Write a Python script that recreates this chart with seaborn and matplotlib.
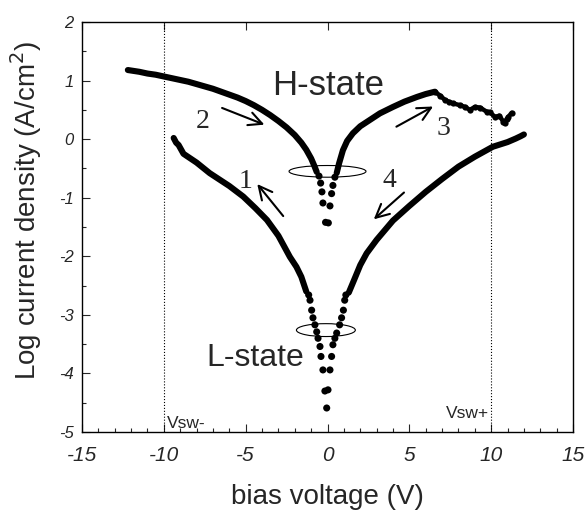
import matplotlib
matplotlib.use("Agg")
import matplotlib.pyplot as plt
import seaborn as sns
import pandas as pd
from matplotlib.patches import Ellipse
from matplotlib.ticker import MultipleLocator

# sweep 1: L-state, negative bias (dense part, then sparse dots near 0 V)
s1_v = [-9.4, -9.25, -9.1, -9.0, -8.8, -8.0, -7.2, -6.0, -5.15, -4.4, -3.7, -3.0, -2.3, -1.9, -1.6, -1.3]
s1_j = [0.02, -0.06, -0.10, -0.15, -0.25, -0.40, -0.58, -0.80, -0.98, -1.18, -1.38, -1.65, -2.01, -2.18, -2.35, -2.60]
s1_dot_v = [-1.15, -1.07, -0.97, -0.89, -0.77, -0.66, -0.58, -0.46, -0.40, -0.28, -0.16, -0.05]
s1_dot_j = [-2.66, -2.75, -2.92, -3.05, -3.17, -3.29, -3.40, -3.54, -3.71, -3.94, -4.30, -4.59]

# sweep 2: H-state, negative bias
s2_v = [-12.2, -11.5, -11.0, -10.5, -10.0, -9.5, -9.0, -8.5, -8.0, -7.5, -7.0, -6.5, -6.0, -5.5,
        -5.0, -4.5, -4.0, -3.5, -3.0, -2.5, -2.0, -1.6, -1.3, -1.0, -0.8, -0.66]
s2_j = [1.18, 1.15, 1.12, 1.10, 1.07, 1.04, 1.01, 0.98, 0.94, 0.90, 0.86, 0.81, 0.76, 0.71,
        0.65, 0.58, 0.50, 0.41, 0.31, 0.20, 0.07, -0.06, -0.18, -0.33, -0.46, -0.56]
s2_dot_v = [-0.52, -0.42, -0.34, -0.28, -0.12]
s2_dot_j = [-0.63, -0.75, -0.90, -1.09, -1.42]

# sweep 3: H-state, positive bias
s3_v = [0.56, 0.7, 0.94, 1.2, 1.55, 2.0, 2.6, 3.2, 4.0, 4.7, 5.46, 6.0, 6.56]
s3_j = [-0.58, -0.42, -0.19, -0.03, 0.10, 0.22, 0.33, 0.44, 0.55, 0.64, 0.72, 0.77, 0.81]
s3_noisy_v = [6.56, 6.9, 7.17, 7.4, 7.68, 8.09, 8.4, 8.7, 9.0, 9.31, 9.72, 9.92, 10.23, 10.5, 10.74, 10.84, 10.94, 11.05, 11.25]
s3_noisy_j = [0.81, 0.74, 0.67, 0.64, 0.61, 0.58, 0.55, 0.50, 0.55, 0.54, 0.47, 0.46, 0.38, 0.40, 0.30, 0.27, 0.34, 0.38, 0.45]
s3_dot_v = [0.45, 0.33, 0.25, 0.15, 0.05]
s3_dot_j = [-0.65, -0.79, -0.93, -1.14, -1.43]

# sweep 4: L-state, positive bias
s4_v = [12.0, 11.8, 11.5, 11.0, 10.1, 9.0, 8.0, 7.0, 6.0, 5.0, 4.0, 3.0, 2.39, 2.0, 1.6, 1.3]
s4_j = [0.08, 0.05, 0.01, -0.05, -0.13, -0.30, -0.47, -0.68, -0.90, -1.14, -1.39, -1.72, -1.95, -2.15, -2.42, -2.62]
s4_dot_v = [1.12, 1.05, 0.97, 0.86, 0.74, 0.56, 0.45, 0.33, 0.25, 0.15, 0.03]
s4_dot_j = [-2.66, -2.75, -2.92, -3.05, -3.17, -3.31, -3.40, -3.51, -3.71, -3.94, -4.28]

xticks = [-15, -10, -5, 0, 5, 10, 15]
yticks = [-5, -4, -3, -2, -1, 0, 1, 2]

sns.set_style("ticks")
plt.rcParams['font.family'] = ['Liberation Sans', 'DejaVu Sans']
plt.rcParams['axes.unicode_minus'] = False

fig = plt.figure(figsize=(5.88, 5.14), dpi=100)
ax = fig.add_axes([0.1395, 0.1595, 0.835, 0.7977])

for v, j in [(s1_v, s1_j), (s2_v, s2_j), (s3_v, s3_j), (s4_v, s4_j)]:
    sns.lineplot(x=v, y=j, sort=False, estimator=None, color='black', lw=4.4,
                 solid_capstyle='round', ax=ax)
sns.lineplot(x=s3_noisy_v, y=s3_noisy_j, sort=False, estimator=None, color='black', lw=3.2,
             solid_capstyle='round', marker='o', markersize=4.5, markeredgewidth=0, ax=ax)

dots = pd.DataFrame({
    'v': s1_dot_v + s2_dot_v + s3_dot_v + s4_dot_v,
    'j': s1_dot_j + s2_dot_j + s3_dot_j + s4_dot_j,
})
sns.scatterplot(data=dots, x='v', y='j', color='black', s=26, edgecolor='none', ax=ax)

# switching voltages
for xv in [-10, 10]:
    ax.axvline(xv, color='black', ls=':', lw=0.8)

# ellipses marking the read region
ax.add_patch(Ellipse((0, -0.55), 4.7, 0.2, fill=False, ec='black', lw=0.8, zorder=5))
ax.add_patch(Ellipse((-0.1, -3.26), 3.6, 0.22, fill=False, ec='black', lw=0.8, zorder=5))

# sweep direction arrows
arrows = [((-6.6, 0.55), (-3.7, 0.23)), ((-2.6, -1.35), (-4.4, -0.73)),
          ((4.06, 0.19), (6.6, 0.58)), ((4.8, -0.88), (2.7, -1.40))]
for start, end in arrows:
    ax.annotate('', xy=end, xytext=start,
                arrowprops=dict(arrowstyle='->', color='black', lw=1.5, mutation_scale=24))
for txt, xv, yv in [('1', -5.0, -0.72), ('2', -7.6, 0.30), ('3', 7.1, 0.19), ('4', 3.8, -0.70)]:
    ax.text(xv, yv, txt, family='Liberation Serif', fontsize=20, ha='center', va='center')

ax.text(0.03, 0.92, 'H-state', fontsize=25, ha='center', va='center')
ax.text(-4.43, -3.74, 'L-state', fontsize=23, ha='center', va='center')
ax.text(-9.8, -4.86, 'Vsw-', fontsize=12.5, ha='left', va='center')
ax.text(9.85, -4.68, 'Vsw+', fontsize=12.5, ha='right', va='center')

ax.set_xlim(-15, 15)
ax.set_ylim(-5, 2)
ax.set_xticks(xticks)
ax.set_xticklabels([str(t) for t in xticks], fontstyle='italic', fontsize=15)
ax.set_yticks(yticks)
ax.set_yticklabels([str(t) for t in yticks], fontstyle='italic', fontsize=12)
ax.xaxis.set_minor_locator(MultipleLocator(1))
ax.yaxis.set_minor_locator(MultipleLocator(0.5))
ax.tick_params(which='both', direction='in', top=True, right=False, width=0.8)
ax.tick_params(which='major', length=6)
ax.tick_params(which='minor', length=3, top=False)
ax.tick_params(axis='x', pad=10)
ax.tick_params(axis='y', pad=6)
for sp in ax.spines.values():
    sp.set_visible(True)
    sp.set_linewidth(1.0)
    sp.set_color('black')

ax.set_xlabel('bias voltage (V)', fontsize=20, labelpad=14)
ax.set_ylabel('Log current density (A/cm$^2$)', fontsize=20)
ax.yaxis.set_label_coords(-0.078, 0.54)

fig.savefig('out.png', dpi=100)
